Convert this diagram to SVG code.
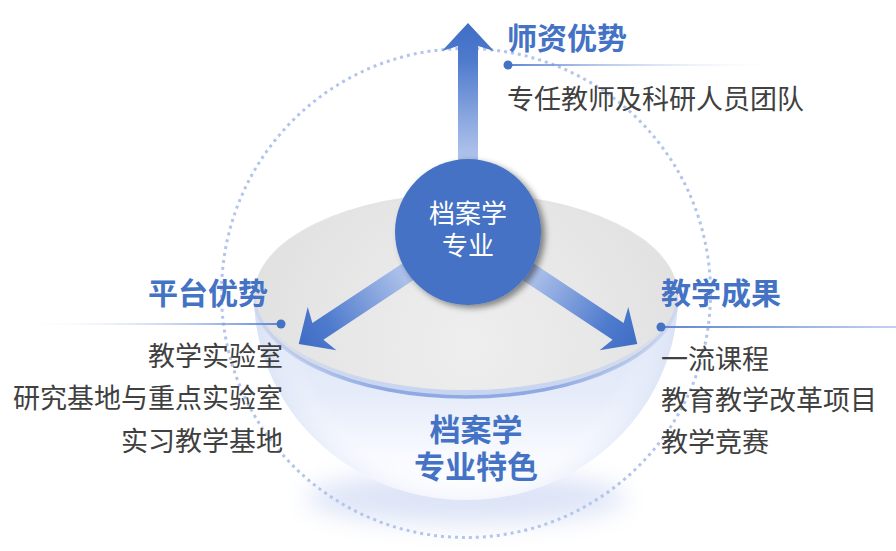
<svg xmlns="http://www.w3.org/2000/svg" width="896" height="551" viewBox="0 0 896 551">
<defs>
<style>
text { font-family: "Noto Sans CJK SC", "Noto Sans", sans-serif; }
.head { font-size: 30px; font-weight: 700; fill: #4472c4; }
.item { font-size: 27px; fill: #404040; }
.ctr { font-size: 26px; fill: #ffffff; text-anchor: middle; }
.feat { font-size: 31px; font-weight: 700; fill: #4472c4; text-anchor: middle; }
.dot { fill: #4472c4; }
.arrow { fill: url(#arrowGrad); }
</style>
<linearGradient id="arrowGrad" x1="0" y1="0" x2="0" y2="1">
<stop offset="0" stop-color="#3f6dc5"/>
<stop offset="0.18" stop-color="#4f7bcd"/>
<stop offset="0.6" stop-color="#a9bee9"/>
<stop offset="1" stop-color="#c6d4f2"/>
</linearGradient>
<linearGradient id="fadeR" x1="0" y1="0" x2="1" y2="0">
<stop offset="0" stop-color="#5f85d3"/>
<stop offset="1" stop-color="#ffffff" stop-opacity="0"/>
</linearGradient>
<linearGradient id="fadeRR" x1="0" y1="0" x2="1" y2="0">
<stop offset="0" stop-color="#5f85d3"/>
<stop offset="1" stop-color="#c3d1f1"/>
</linearGradient>
<linearGradient id="fadeL" x1="0" y1="0" x2="1" y2="0">
<stop offset="0" stop-color="#ffffff" stop-opacity="0"/>
<stop offset="1" stop-color="#5f85d3"/>
</linearGradient>
<linearGradient id="bowlGrad" x1="0" y1="0" x2="0" y2="1">
<stop offset="0" stop-color="#d9e2f6"/>
<stop offset="0.5" stop-color="#e6ecf9"/>
<stop offset="0.78" stop-color="#f8faff"/>
<stop offset="1" stop-color="#ffffff"/>
</linearGradient>
<radialGradient id="bowlSide" gradientUnits="userSpaceOnUse" cx="466" cy="300" r="215">
<stop offset="0.8" stop-color="#ffffff" stop-opacity="0"/>
<stop offset="1" stop-color="#d3ddf4" stop-opacity="0.6"/>
</radialGradient>
<linearGradient id="lipGrad" x1="0" y1="0" x2="0" y2="1">
<stop offset="0" stop-color="#e4e4e4"/>
<stop offset="0.55" stop-color="#e4e4e4"/>
<stop offset="1" stop-color="#c6d4f1"/>
</linearGradient>
<radialGradient id="grayGrad" gradientUnits="userSpaceOnUse" cx="470" cy="345" r="220">
<stop offset="0" stop-color="#eeeeee"/>
<stop offset="0.6" stop-color="#e7e7e7"/>
<stop offset="1" stop-color="#e1e1e1"/>
</radialGradient>
<linearGradient id="rimGrad" x1="0" y1="0" x2="1" y2="0">
<stop offset="0" stop-color="#9ab1e6" stop-opacity="0.2"/>
<stop offset="0.3" stop-color="#8fa9e3"/>
<stop offset="0.7" stop-color="#8fa9e3"/>
<stop offset="1" stop-color="#9ab1e6" stop-opacity="0.2"/>
</linearGradient>
<filter id="blur" x="-50%" y="-50%" width="200%" height="200%">
<feGaussianBlur stdDeviation="12"/>
</filter>
<filter id="shadow" x="-30%" y="-30%" width="160%" height="160%">
<feDropShadow dx="4" dy="3" stdDeviation="3" flood-color="#000000" flood-opacity="0.45"/>
</filter>
<path id="arrowTop" d="M0,-209 L26,-181 L10,-186 L10,0 L-10,0 L-10,-186 L-26,-181 Z"/>
<path id="arrowSide" d="M0,-203 L26,-175 L10,-180 L10,0 L-10,0 L-10,-180 L-26,-175 Z"/>
</defs>

<rect width="896" height="551" fill="#ffffff"/>

<g id="bowl">
<ellipse cx="466" cy="498" rx="160" ry="26" fill="#b4c4ec" opacity="0.45" filter="url(#blur)"/>
<circle cx="466" cy="293" r="244.5" fill="none" stroke="#b3c5ec" stroke-width="3" stroke-dasharray="3 4"/>
<path d="M254,295 A212,205 0 0 0 678,295 Z" fill="url(#bowlGrad)"/>
<path d="M254,295 A212,205 0 0 0 678,295 Z" fill="url(#bowlSide)"/>
<ellipse cx="466" cy="295" rx="212" ry="102" fill="url(#lipGrad)"/>
<ellipse cx="466" cy="293" rx="210" ry="97" fill="url(#grayGrad)"/>
<path d="M254,295 A212,102 0 0 0 678,295" fill="none" stroke="url(#rimGrad)" stroke-width="3.5"/>
</g>

<g id="connectors">
<use href="#arrowTop" class="arrow" transform="translate(468,232)"/>
<use href="#arrowSide" class="arrow" transform="translate(468,232) rotate(-123.5)"/>
<use href="#arrowSide" class="arrow" transform="translate(468,232) rotate(123.5)"/>
</g>

<g id="center">
<circle cx="468" cy="232" r="73" fill="#4472c4" filter="url(#shadow)"/>
<text class="ctr" x="468" y="223">档案学</text>
<text class="ctr" x="468" y="255">专业</text>
</g>

<g id="teachers">
<text class="head" x="507" y="49">师资优势</text>
<rect x="508" y="64" width="280" height="2" fill="url(#fadeR)"/>
<circle class="dot" cx="508" cy="65" r="4.5"/>
<text class="item" x="507" y="109">专任教师及科研人员团队</text>
</g>

<g id="platform">
<text class="head" x="268" y="304" text-anchor="end">平台优势</text>
<rect x="20" y="323" width="261" height="2" fill="url(#fadeL)"/>
<circle class="dot" cx="281" cy="324" r="4.5"/>
<text class="item" x="283" y="366" text-anchor="end">教学实验室</text>
<text class="item" x="283" y="408" text-anchor="end">研究基地与重点实验室</text>
<text class="item" x="283" y="451" text-anchor="end">实习教学基地</text>
</g>

<g id="results">
<text class="head" x="661" y="304">教学成果</text>
<rect x="661" y="326" width="235" height="2" fill="url(#fadeRR)"/>
<circle class="dot" cx="661" cy="327" r="4.5"/>
<text class="item" x="661" y="369">一流课程</text>
<text class="item" x="661" y="410">教育教学改革项目</text>
<text class="item" x="661" y="452">教学竞赛</text>
</g>

<g id="feature">
<text class="feat" x="476" y="441">档案学</text>
<text class="feat" x="476" y="478">专业特色</text>
</g>
</svg>
